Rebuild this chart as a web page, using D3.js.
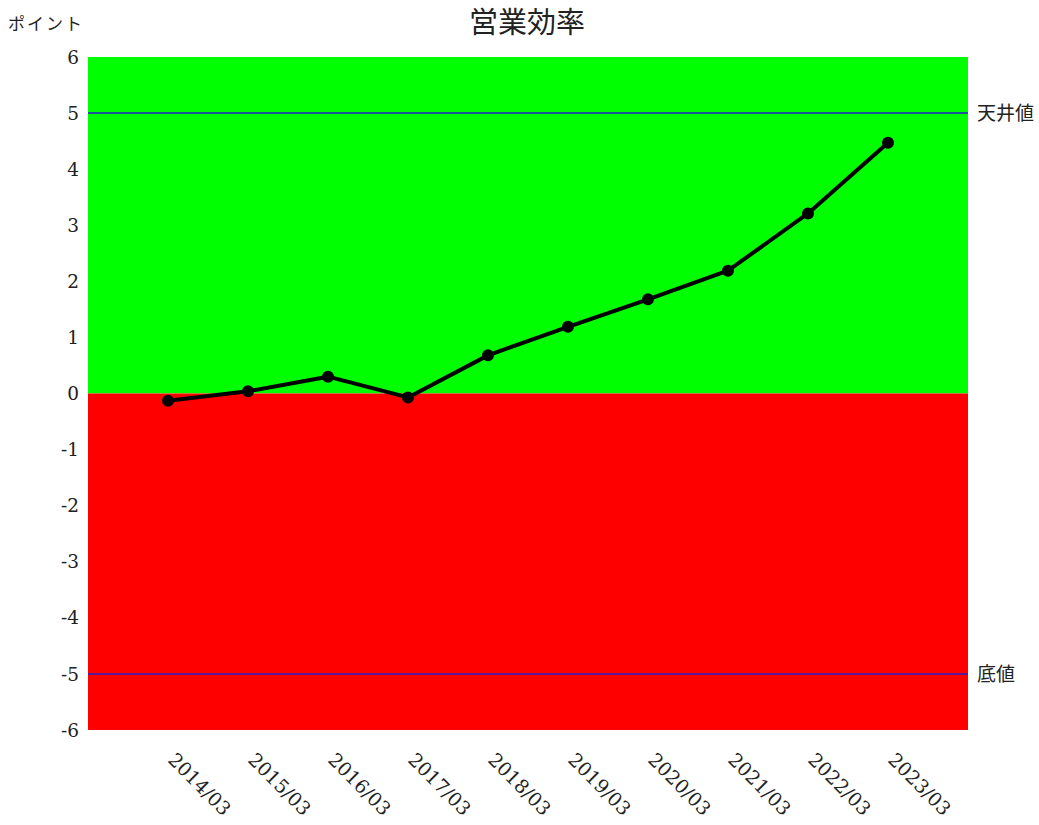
<!DOCTYPE html>
<html><head><meta charset="utf-8">
<script src="https://cdn.jsdelivr.net/npm/d3@7"></script>
<style>body{margin:0;background:#fff}</style>
</head><body>
<svg id="c" width="1039" height="825"></svg>
<script>
const categories = ["2014/03","2015/03","2016/03","2017/03","2018/03","2019/03","2020/03","2021/03","2022/03","2023/03"];
const values = [-0.13, 0.04, 0.30, -0.07, 0.68, 1.19, 1.68, 2.19, 3.21, 4.47];
const yTicks = [-6,-5,-4,-3,-2,-1,0,1,2,3,4,5,6];
const refLines = [{v:5,label:"天井値"},{v:-5,label:"底値"}];
const title = "営業効率";
const yUnit = "ポイント";

const svg = d3.select("#c");
const L = 88, R = 968, T = 57, B = 730;
const x = d3.scalePoint().domain(categories).range([L, R]).padding(1);
const y = d3.scaleLinear().domain([-6, 6]).range([B, T]);
const serif = "DejaVu Serif, Liberation Serif, serif";
const cjk = "Noto Sans CJK JP, sans-serif";

svg.append("rect").attr("x", L).attr("y", y(6)).attr("width", R - L).attr("height", y(0) - y(6)).attr("fill", "#00ff00");
svg.append("rect").attr("x", L).attr("y", y(0)).attr("width", R - L).attr("height", y(-6) - y(0)).attr("fill", "#ff0000");

refLines.forEach(r => {
  svg.append("line").attr("x1", L).attr("x2", R).attr("y1", y(r.v)).attr("y2", y(r.v))
    .attr("stroke", "#2222cc").attr("stroke-width", 1.5);
  svg.append("text").attr("x", R + 9).attr("y", y(r.v)).attr("dy", "0.35em")
    .attr("font-family", cjk).attr("font-size", 19).attr("fill", "#222").text(r.label);
});

svg.append("g").selectAll("text").data(yTicks).join("text")
  .attr("x", 79).attr("y", d => y(d)).attr("dy", "0.36em").attr("text-anchor", "end")
  .attr("font-family", serif).attr("font-size", 18.5).attr("fill", "#222").text(d => d);

svg.append("g").selectAll("text").data(categories).join("text")
  .attr("transform", d => `translate(${x(d) - 1},${761}) rotate(45)`)
  .attr("font-family", serif).attr("font-size", 19).attr("fill", "#222").text(d => d);

const line = d3.line().x((d, i) => x(categories[i])).y(d => y(d));
svg.append("path").datum(values).attr("d", line).attr("fill", "none")
  .attr("stroke", "#000").attr("stroke-width", 4).attr("stroke-linejoin", "round");
svg.append("g").selectAll("circle").data(values).join("circle")
  .attr("cx", (d, i) => x(categories[i])).attr("cy", d => y(d)).attr("r", 6).attr("fill", "#000");

svg.append("text").attr("x", 527).attr("y", 33).attr("text-anchor", "middle")
  .attr("font-family", cjk).attr("font-size", 29).attr("fill", "#222").text(title);
svg.append("text").attr("x", 8).attr("y", 24).attr("dy", "0.35em").attr("letter-spacing", 2)
  .attr("font-family", cjk).attr("font-size", 17).attr("fill", "#222").text(yUnit);
</script>
</body></html>
